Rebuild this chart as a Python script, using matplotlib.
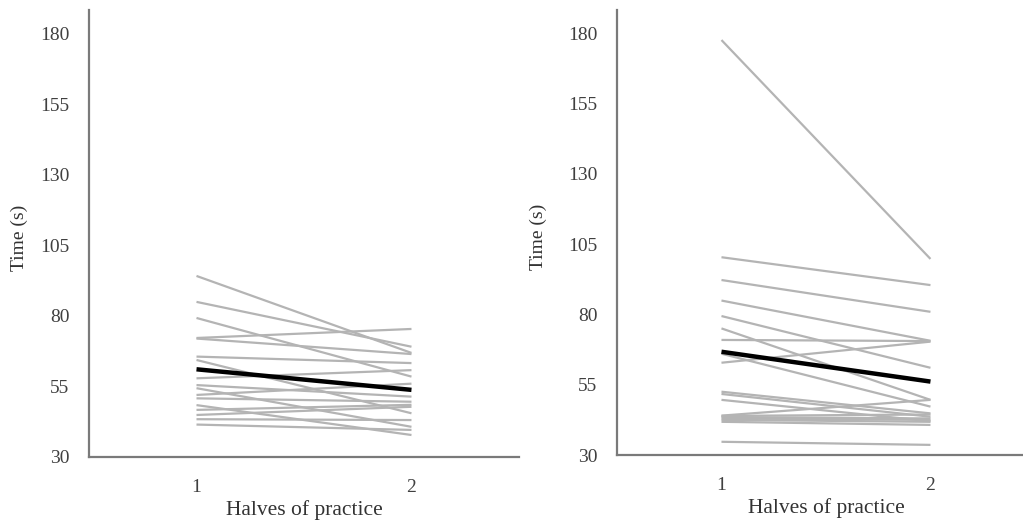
import matplotlib
matplotlib.use('Agg')
import matplotlib.pyplot as plt

# Left panel: time per participant in half 1 and half 2
left_h1 = [94.2, 85.0, 79.3, 72.2, 72.0, 65.6, 64.4, 57.9, 55.5, 54.4, 52.0, 50.8,
           48.4, 46.7, 44.9, 43.4, 41.5]
left_h2 = [66.9, 69.1, 58.5, 75.4, 66.5, 63.3, 45.5, 60.8, 51.4, 40.7, 56.0, 49.6,
           37.8, 48.5, 47.8, 43.1, 39.6]
left_mean = [61.1, 53.8]

# Right panel
right_h1 = [177.5, 100.3, 92.2, 84.9, 79.4, 75.0, 70.9, 66.0, 62.8, 52.5, 51.7, 49.6,
            44.0, 43.9, 43.5, 43.0, 42.5, 41.8, 34.7]
right_h2 = [99.7, 90.4, 80.9, 70.6, 61.0, 49.6, 70.5, 47.2, 70.3, 44.8, 43.6, 42.0,
            49.6, 44.4, 43.0, 42.5, 41.8, 40.7, 33.6]
right_mean = [66.7, 56.1]

halves = [1, 2]
yticks = [30, 55, 80, 105, 130, 155, 180]

plt.rcParams['font.family'] = ['Liberation Serif', 'DejaVu Serif']

fig = plt.figure(figsize=(10.23, 5.23), dpi=100)
ax1 = fig.add_axes([0.087, 0.1262, 0.4203, 0.8547])
ax2 = fig.add_axes([0.6031, 0.130, 0.4086, 0.851])


def draw_panel(ax, h1, h2, mean, ytop):
    for a, b in zip(h1, h2):
        ax.plot(halves, [a, b], color='#b4b4b4', linewidth=1.6, solid_capstyle='butt', zorder=2)
    ax.plot(halves, mean, color='black', linewidth=3.2, solid_capstyle='butt', zorder=3)
    ax.set_xlim(0.5, 2.5)
    ax.set_ylim(30, ytop)
    ax.set_xticks(halves)
    ax.set_yticks(yticks)
    ax.tick_params(length=0, labelsize=14, colors='#404040')
    ax.tick_params(axis='y', pad=14)
    ax.tick_params(axis='x', pad=16)
    for side in ['top', 'right']:
        ax.spines[side].set_visible(False)
    for side in ['left', 'bottom']:
        ax.spines[side].set_color('#7a7a7a')
        ax.spines[side].set_linewidth(1.6)
    ax.set_xlabel("Halves of practice", fontsize=15.5, color='#333333', labelpad=3)
    ax.set_ylabel("Time (s)", fontsize=14, color='#333333')


draw_panel(ax1, left_h1, left_h2, left_mean, 188.5)
draw_panel(ax2, right_h1, right_h2, right_mean, 188.2)
ax1.yaxis.set_label_coords(-0.142, 0.49)
ax2.yaxis.set_label_coords(-0.167, 0.49)

plt.savefig("out.png", dpi=100)
plt.close()
